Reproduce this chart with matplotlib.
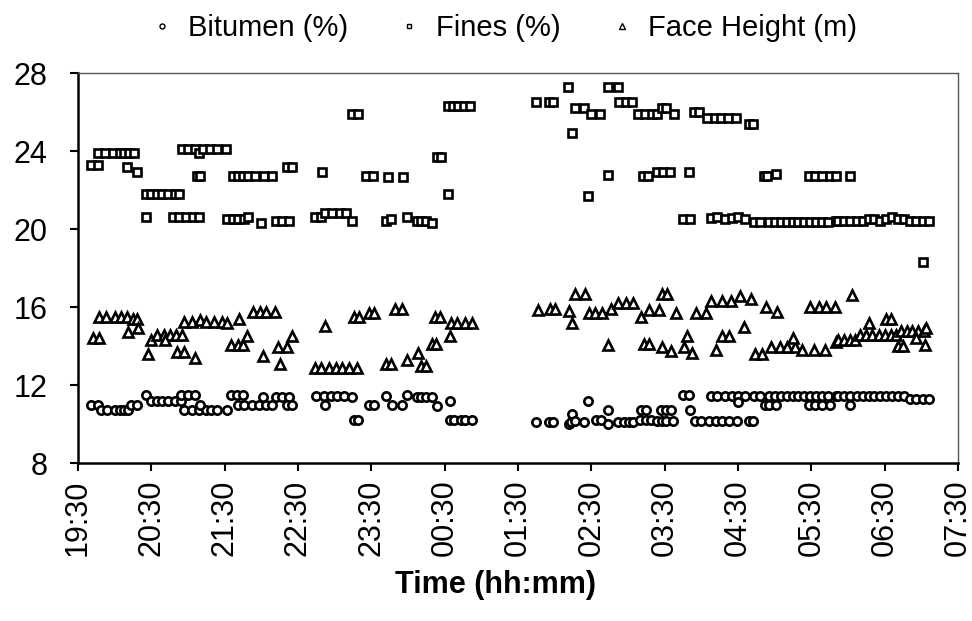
import numpy as np
import matplotlib
matplotlib.use('Agg')
import matplotlib.pyplot as plt

plt.rcParams['font.family'] = ['Liberation Sans', 'DejaVu Sans']

# time in minutes after 19:30, value
bitumen_t = [11, 16, 19, 24, 30, 34, 38, 41, 43, 48, 56, 60, 65, 69, 74, 79, 84,
             84, 90, 96, 87, 93, 99, 105, 109, 114, 100, 122, 125, 130, 135, 131, 136,
             142, 148, 154, 159, 151, 162, 167, 173, 171, 175, 195, 201, 207, 212, 218,
             202, 224, 226, 229, 238, 242, 252, 257, 265, 269, 277, 281, 285, 290, 294,
             304, 304, 308, 313, 317, 322,
             375, 385, 389, 402, 403, 404, 407, 414, 417, 424, 428, 434, 434, 442, 447,
             451, 454, 461, 465, 460, 465, 469, 474, 478, 481, 477, 481, 485, 487, 495,
             500, 501, 505, 510, 516, 522, 527, 533, 539, 549, 552, 518, 523, 529, 535,
             540, 546, 540, 553, 558, 562, 565, 571, 565, 570, 575, 580, 585, 589, 594,
             599, 604, 609, 614, 598, 603, 609, 615, 620, 632, 622, 627, 632, 637, 642,
             647, 651, 656, 661, 666, 671, 676, 681, 686, 691, 696]
bitumen_v = [11.0, 11.0, 10.7, 10.7, 10.7, 10.7, 10.7, 10.7, 11.0, 11.0, 11.5, 11.2,
             11.2, 11.2, 11.2, 11.2, 11.2, 11.5, 11.5, 11.5, 10.7, 10.7, 10.7, 10.7,
             10.7, 10.7, 11.0, 10.7, 11.5, 11.5, 11.5, 11.0, 11.0, 11.0, 11.0, 11.0,
             11.0, 11.4, 11.4, 11.4, 11.4, 11.0, 11.0, 11.45, 11.45, 11.45, 11.45, 11.45,
             11.0, 11.4, 10.2, 10.2, 11.0, 11.0, 11.45, 11.0, 11.0, 11.5, 11.4, 11.4,
             11.4, 11.4, 10.9, 11.2, 10.2, 10.2, 10.2, 10.2, 10.2,
             10.1, 10.1, 10.1, 10.0, 10.1, 10.5, 10.15, 10.1, 11.2, 10.2, 10.2, 10.0,
             10.7, 10.1, 10.1, 10.1, 10.1, 10.7, 10.7, 10.2, 10.2, 10.2, 10.15, 10.15,
             10.15, 10.7, 10.7, 10.7, 10.15, 11.5, 11.5, 10.7, 10.15, 10.15, 10.15,
             10.15, 10.15, 10.15, 10.15, 10.15, 10.15, 11.45, 11.45, 11.45, 11.45,
             11.45, 11.45, 11.15, 11.45, 11.45, 11.0, 11.0, 11.0, 11.45, 11.45, 11.45,
             11.45, 11.45, 11.45, 11.45, 11.45, 11.45, 11.45, 11.45, 11.0, 11.0, 11.0,
             11.0, 11.45, 11.0, 11.45, 11.45, 11.45, 11.45, 11.45, 11.45, 11.45, 11.45,
             11.45, 11.45, 11.45, 11.45, 11.3, 11.3, 11.3, 11.3]

fines_t = [11, 16, 16, 22, 29, 34, 38, 42, 46, 40, 48, 56, 60, 65, 69, 74, 79, 83,
           56, 78, 83, 88, 94, 99, 85, 90, 96, 99, 102, 108, 114, 121, 97, 100, 127,
           122, 127, 131, 136, 139, 131, 135, 139, 145, 152, 159, 171, 175, 200, 224,
           229, 236, 241, 254, 266, 150, 162, 167, 173, 194, 199, 202, 208, 214, 219,
           224, 252, 256, 269, 277, 281, 285, 290, 294, 297, 303, 307, 311, 316, 321,
           303,
           375, 385, 389, 401, 407, 414, 420, 427, 404, 417, 434, 434, 442, 443, 448,
           453, 458, 464, 470, 462, 466, 474, 478, 481, 488, 474, 479, 484, 500, 495,
           501, 504, 508, 515, 521, 526, 532, 538, 549, 552, 561, 564, 571, 598, 603,
           609, 615, 620, 632, 518, 523, 529, 535, 540, 546, 553, 558, 565, 570, 575,
           580, 585, 589, 594, 599, 604, 609, 614, 620, 622, 627, 632, 637, 642, 647,
           651, 656, 661, 666, 671, 676, 681, 686, 691, 696, 691]
fines_v = [23.3, 23.3, 23.9, 23.9, 23.9, 23.9, 23.9, 23.9, 23.9, 23.2, 22.9, 21.8,
           21.8, 21.8, 21.8, 21.8, 21.8, 21.8, 20.6, 20.6, 20.6, 20.6, 20.6, 20.6,
           24.1, 24.1, 24.1, 23.9, 24.1, 24.1, 24.1, 24.1, 22.7, 22.7, 22.7, 20.5,
           20.5, 20.5, 20.5, 20.6, 22.7, 22.7, 22.7, 22.7, 22.7, 22.7, 23.2, 23.2,
           22.9, 25.9, 25.9, 22.7, 22.7, 22.65, 22.65, 20.3, 20.4, 20.4, 20.4, 20.6,
           20.6, 20.8, 20.8, 20.8, 20.8, 20.4, 20.4, 20.5, 20.6, 20.4, 20.4, 20.4,
           20.3, 23.7, 23.7, 26.3, 26.3, 26.3, 26.3, 26.3, 21.8,
           26.5, 26.5, 26.5, 27.3, 26.2, 26.2, 25.9, 25.9, 24.9, 21.7, 22.75, 27.3,
           27.3, 26.5, 26.5, 26.5, 25.9, 25.9, 25.9, 22.7, 22.7, 25.9, 26.2, 26.2,
           25.9, 22.9, 22.9, 22.9, 22.9, 20.5, 20.5, 26.0, 26.0, 25.7, 25.7, 25.7,
           25.7, 25.7, 25.4, 25.4, 22.7, 22.7, 22.8, 22.7, 22.7, 22.7, 22.7, 22.7,
           22.7, 20.55, 20.6, 20.5, 20.55, 20.6, 20.5, 20.35, 20.35, 20.35, 20.35,
           20.35, 20.35, 20.35, 20.35, 20.35, 20.35, 20.35, 20.35, 20.35, 20.4, 20.4,
           20.4, 20.4, 20.4, 20.4, 20.5, 20.5, 20.4, 20.5, 20.6, 20.5, 20.5, 20.4,
           20.4, 20.4, 20.4, 18.3]

face_t = [12, 17, 17, 23, 30, 35, 40, 45, 48, 41, 49, 57, 60, 65, 70, 75, 80, 85,
          71, 81, 87, 96, 87, 93, 100, 105, 111, 118, 122, 125, 131, 135, 132, 143,
          149, 154, 161, 138, 151, 165, 164, 171, 175, 202, 194, 199, 205, 211, 216,
          222, 228, 226, 230, 238, 242, 252, 256, 259, 265, 269, 278, 281, 285, 290,
          293, 292, 296, 304, 305, 310, 317, 322,
          376, 386, 390, 402, 404, 407, 415, 418, 423, 429, 434, 436, 442, 448, 454,
          461, 467, 475, 463, 467, 478, 482, 478, 485, 489, 496, 498, 502, 506, 514,
          518, 527, 534, 542, 551, 527, 533, 522, 545, 563, 572, 554, 560, 567, 574,
          580, 587, 585, 592, 602, 611, 599, 606, 612, 619, 620, 633, 622, 627, 632,
          636, 640, 645, 650, 655, 660, 665, 669, 647, 661, 665, 671, 675, 673, 678,
          682, 687, 692, 686, 693, 694]
face_v = [14.4, 14.4, 15.5, 15.5, 15.5, 15.5, 15.5, 15.4, 15.4, 14.7, 14.9, 13.6,
          14.3, 14.55, 14.55, 14.55, 14.55, 14.55, 14.3, 13.7, 13.7, 13.4, 15.25,
          15.25, 15.35, 15.25, 15.25, 15.25, 15.2, 14.05, 14.05, 14.05, 15.4, 15.75,
          15.75, 15.75, 15.75, 14.5, 13.5, 13.1, 13.95, 13.95, 14.5, 15.05, 12.85,
          12.85, 12.85, 12.85, 12.85, 12.85, 12.85, 15.5, 15.5, 15.7, 15.7, 13.1,
          13.1, 15.9, 15.9, 13.3, 13.65, 12.95, 12.95, 14.1, 14.1, 15.5, 15.5, 14.5,
          15.2, 15.2, 15.2, 15.2,
          15.85, 15.9, 15.9, 15.8, 15.2, 16.65, 16.65, 15.7, 15.7, 15.7, 14.05, 15.9,
          16.2, 16.2, 16.2, 15.5, 15.85, 15.85, 14.1, 14.1, 16.65, 16.65, 13.95,
          13.75, 15.7, 13.95, 14.5, 13.65, 15.7, 15.7, 16.3, 16.3, 16.3, 16.55, 16.4,
          14.5, 14.5, 13.8, 14.95, 16.0, 15.75, 13.6, 13.6, 13.95, 13.95, 13.95,
          13.95, 14.4, 13.8, 13.8, 13.8, 16.0, 16.0, 16.0, 16.0, 14.2, 16.6, 14.3,
          14.3, 14.3, 14.3, 14.55, 14.55, 14.55, 14.55, 14.55, 14.55, 14.55, 15.2,
          15.4, 15.4, 14.0, 14.0, 14.75, 14.75, 14.75, 14.75, 14.75, 14.4, 14.05, 14.9]

tick_minutes = list(range(0, 721, 60))
tick_labels = ['19:30', '20:30', '21:30', '22:30', '23:30', '00:30', '01:30',
               '02:30', '03:30', '04:30', '05:30', '06:30', '07:30']

fig = plt.figure(figsize=(9.72, 6.21), dpi=100)
ax = fig.add_axes([0.0802, 0.2544, 0.9054, 0.628])

mk = dict(linestyle='none', markerfacecolor='white', markeredgecolor='black',
          markeredgewidth=1.9)
ax.plot(bitumen_t, bitumen_v, marker='o', markersize=6, label='Bitumen (%)', **mk)
ax.plot(fines_t, fines_v, marker='s', markersize=6, label='Fines (%)', **mk)
ax.plot(face_t, face_v, marker='^', markersize=7, label='Face Height (m)', **mk)

ax.set_xlim(0, 720)
ax.set_ylim(8, 28)
ax.set_yticks([8, 12, 16, 20, 24, 28])
ax.set_xticks(tick_minutes)
ax.set_xticklabels(tick_labels, rotation=90)
ax.tick_params(axis='both', labelsize=22, direction='out', length=6, width=1.5,
               colors='black')
ax.tick_params(axis='y', pad=16)
ax.tick_params(axis='x', pad=6)

for side in ['left', 'bottom']:
    ax.spines[side].set_linewidth(1.8)
for side in ['top', 'right']:
    ax.spines[side].set_linewidth(1.0)
    ax.spines[side].set_color('#555555')

ax.set_xlabel('Time (hh:mm)', fontsize=22, fontweight='bold')
ax.xaxis.set_label_coords(0.475, -0.275)

leg = fig.legend(loc='center', bbox_to_anchor=(0.518, 0.955), ncol=3,
                 frameon=False, fontsize=21, markerscale=0.6, handlelength=0.8,
                 handletextpad=0.5, columnspacing=1.7)
for h in leg.legend_handles:
    h.set_markeredgewidth(1.0)

fig.savefig('out.png', dpi=100)
